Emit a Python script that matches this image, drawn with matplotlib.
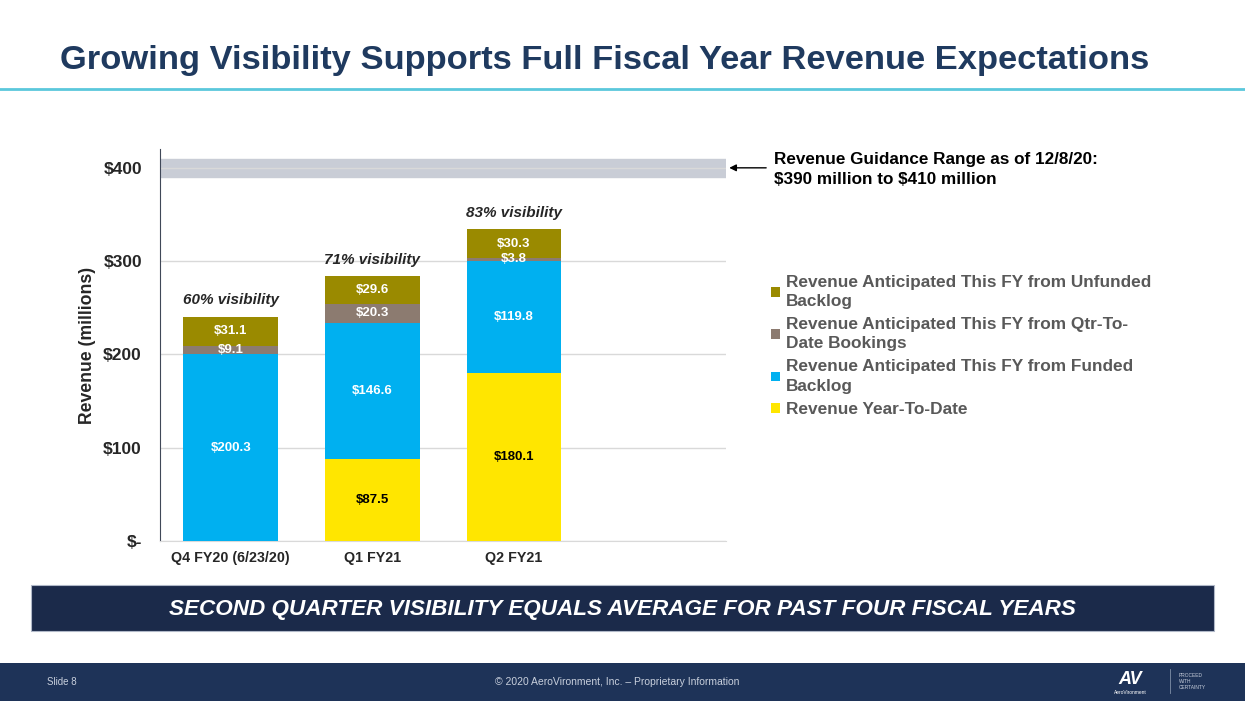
import numpy as np
import matplotlib.pyplot as plt
from matplotlib.patches import Rectangle

# data ($ millions)
periods = ['Q4 FY20 (6/23/20)', 'Q1 FY21', 'Q2 FY21']
ytd = [0.0, 87.5, 180.1]
funded = [200.3, 146.6, 119.8]
qtd = [9.1, 20.3, 3.8]
unfunded = [31.1, 29.6, 30.3]
visibility = ['60% visibility', '71% visibility', '83% visibility']
guidance_low, guidance_high = 390, 410
yticks = [0, 100, 200, 300, 400]
ytick_labels = [r'\$-', r'\$100', r'\$200', r'\$300', r'\$400']

series = [
    (ytd, '#FFE600', 'Revenue Year-To-Date', 'black'),
    (funded, '#00B0F0', 'Revenue Anticipated This FY from Funded\nBacklog', 'white'),
    (qtd, '#8C7B70', 'Revenue Anticipated This FY from Qtr-To-\nDate Bookings', 'white'),
    (unfunded, '#9A8A00', 'Revenue Anticipated This FY from Unfunded\nBacklog', 'white'),
]

plt.rcParams['font.family'] = ['Liberation Sans', 'DejaVu Sans']
navy = '#1B2A4A'

fig = plt.figure(figsize=(12.45, 7.01), dpi=100)
fig.patch.set_facecolor('white')

# title + rule
fig.text(0.048, 0.913, 'Growing Visibility Supports Full Fiscal Year Revenue Expectations',
         fontsize=24.8, fontweight='bold', color='#1F3A5F', va='center', ha='left')
fig.add_artist(plt.Line2D([0, 1], [0.873, 0.873], color='#5BC8DC', lw=2))

ax = fig.add_axes([0.1285, 0.2282, 0.455, 0.559])
x = np.arange(len(periods))
width = 0.67

# guidance band
ax.axhspan(guidance_low, guidance_high, color='#C9CDD6', zorder=0)

bottom = np.zeros(len(periods))
handles = []
for vals, color, label, tcolor in series:
    vals = np.array(vals)
    bars = ax.bar(x, vals, width, bottom=bottom, color=color, label=label, zorder=3)
    handles.append(bars)
    for xi, b, v in zip(x, bottom, vals):
        if v > 0:
            ax.text(xi, b + v / 2, f'\\${v:.1f}', ha='center', va='center',
                    fontsize=9.5, fontweight='bold', color=tcolor, zorder=4)
    bottom = bottom + vals

for xi, tot, lab in zip(x, bottom, visibility):
    ax.text(xi, tot + 10, lab, ha='center', va='bottom', fontsize=11,
            fontweight='bold', style='italic', color='#262626')

ax.set_xlim(-0.5, 3.5)
ax.set_ylim(0, 420)
ax.set_yticks(yticks)
ax.set_yticklabels(ytick_labels, fontsize=12.5, fontweight='bold', color='#262626')
ax.set_xticks(x)
ax.set_xticklabels(periods, fontsize=10.3, fontweight='bold', color='#262626')
ax.tick_params(length=0)
ax.tick_params(axis='y', pad=13)
ax.tick_params(axis='x', pad=7)
ax.set_ylabel('Revenue (millions)', fontsize=12.7, fontweight='bold', color='#262626', labelpad=5)
ax.grid(axis='y', color='#D9D9D9', lw=1, zorder=1)
ax.set_axisbelow(True)
for s in ['top', 'right']:
    ax.spines[s].set_visible(False)
ax.spines['left'].set_color('#404858')
ax.spines['bottom'].set_color('#D9D9D9')

# guidance annotation
ax.annotate('', xy=(3.5, 400), xytext=(3.8, 400), xycoords='data',
            arrowprops=dict(arrowstyle='-|>', color='black', lw=1, mutation_scale=10),
            annotation_clip=False)
fig.text(0.622, 0.758, 'Revenue Guidance Range as of 12/8/20:\n\\$390 million to \\$410 million',
         fontsize=12.3, fontweight='bold', color='black', va='center', ha='left', linespacing=1.45)

leg = fig.legend(handles=handles[::-1], labels=[s[2] for s in series[::-1]],
                 loc='upper left', bbox_to_anchor=(0.607, 0.630), frameon=False,
                 prop={'size': 12.4, 'weight': 'bold'}, labelcolor='#595959',
                 handlelength=0.5, handleheight=0.5, handletextpad=0.35, labelspacing=0.47)
for t in leg.get_texts():
    t.set_linespacing(1.35)

# bottom banner
fig.add_artist(Rectangle((0.025, 0.100), 0.950, 0.065, transform=fig.transFigure,
                         facecolor=navy, edgecolor='#B0B8C8', lw=0.8))
fig.text(0.5, 0.131, 'SECOND QUARTER VISIBILITY EQUALS AVERAGE FOR PAST FOUR FISCAL YEARS',
         fontsize=16.2, fontweight='bold', style='italic', color='white', ha='center', va='center')

# footer
fig.add_artist(Rectangle((0, 0), 1, 0.054, transform=fig.transFigure,
                         facecolor='#1E3358', edgecolor='none'))
fig.text(0.038, 0.0265, 'Slide 8', fontsize=7, color='#C8CFDC', va='center')
fig.text(0.496, 0.0265, '\u00a9 2020 AeroVironment, Inc. \u2013 Proprietary Information',
         fontsize=7.5, color='#C8CFDC', va='center', ha='center')
fig.text(0.908, 0.030, 'AV', fontsize=13, fontweight='bold', style='italic', color='white',
         va='center', ha='center')
fig.text(0.908, 0.012, 'AeroVironment', fontsize=3.5, color='white', va='center', ha='center')
fig.add_artist(plt.Line2D([0.94, 0.94], [0.012, 0.045], color='#8090A8', lw=0.6))
fig.text(0.947, 0.028, 'PROCEED\nWITH\nCERTAINTY', fontsize=3.5, color='#C8CFDC',
         va='center', ha='left', linespacing=1.3)

fig.savefig('out.png', dpi=100)
